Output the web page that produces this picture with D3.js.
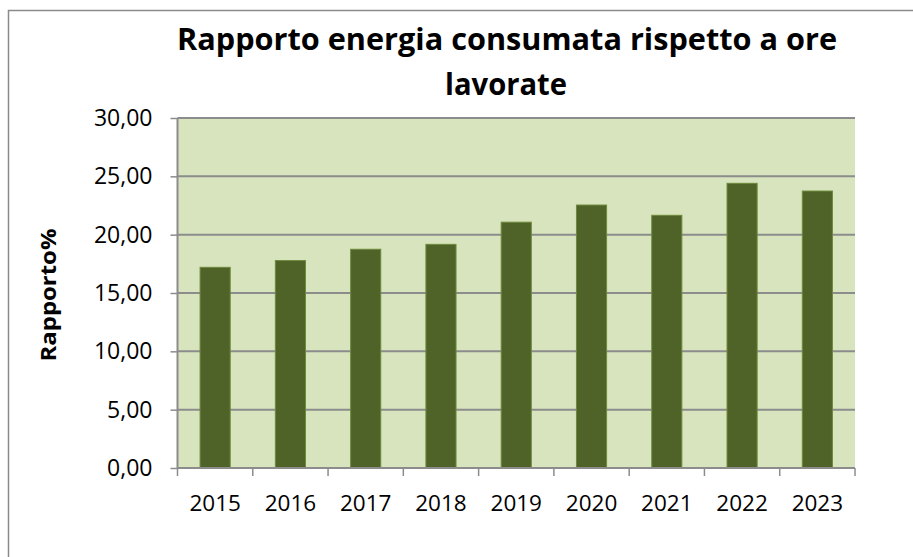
<!DOCTYPE html>
<html><head><meta charset="utf-8">
<script src="https://cdn.jsdelivr.net/npm/d3@7/dist/d3.min.js"></script>
<style>body{margin:0;background:#fff}svg{display:block}</style>
</head><body>
<svg id="c" width="913" height="557"></svg>
<script>
const years = ["2015","2016","2017","2018","2019","2020","2021","2022","2023"];
const values = [17.20, 17.78, 18.75, 19.17, 21.07, 22.54, 21.66, 24.40, 23.74];
const yTicks = [0, 5, 10, 15, 20, 25, 30];
const title = ["Rapporto energia consumata rispetto a ore", "lavorate"];
const yTitle = "Rapporto%";

const svg = d3.select("#c");
const L = 177.5, R = 855, T = 118, B = 468;
const font = "'Open Sans', 'Liberation Sans', sans-serif";

// outer frame
svg.append("path").attr("d", "M8.5,557 L8.5,10.5 L913,10.5")
  .attr("fill", "none").attr("stroke", "#8a8a8a").attr("stroke-width", 1.5);

const x = d3.scaleBand().domain(years).range([L, R]).paddingInner(0.6).paddingOuter(0.3);
const y = d3.scaleLinear().domain([0, 30]).range([B, T]);

svg.append("rect").attr("x", L).attr("y", T).attr("width", R - L).attr("height", B - T).attr("fill", "#d7e4bd");

// gridlines
svg.append("g").selectAll("line").data(yTicks.filter(d => d > 0)).join("line")
  .attr("x1", L).attr("x2", R).attr("y1", d => y(d)).attr("y2", d => y(d))
  .attr("stroke", "#8c8c8c").attr("stroke-width", 2);

// bars
svg.append("g").selectAll("rect").data(values).join("rect")
  .attr("x", (d, i) => x(years[i])).attr("width", x.bandwidth())
  .attr("y", d => y(d)).attr("height", d => B - y(d))
  .attr("fill", "#4f6228").attr("stroke", "#6e8a3c").attr("stroke-width", 1);

// y axis
const yAxis = d3.axisLeft(y).tickValues(yTicks).tickSize(7).tickPadding(18)
  .tickFormat(d => d3.format(".2f")(d).replace(".", ","));
const gy = svg.append("g").attr("transform", `translate(${L},0)`).call(yAxis);
gy.select(".domain").attr("stroke", "#8c8c8c").attr("stroke-width", 2).attr("d", `M0,${T}V${B}`);
gy.selectAll(".tick line").attr("stroke", "#8c8c8c").attr("stroke-width", 1.5);
gy.selectAll(".tick text").attr("font-family", font).attr("font-size", 23).attr("fill", "#000");

// x axis
const xAxis = d3.axisBottom(x).tickSize(0).tickPadding(43);
const gx = svg.append("g").attr("transform", `translate(0,${B})`).call(xAxis);
gx.select(".domain").attr("stroke", "#8c8c8c").attr("stroke-width", 2).attr("d", `M${L},0H${R}`);
gx.selectAll(".tick text").attr("font-family", font).attr("font-size", 22.5).attr("fill", "#000").attr("dy", "0");
// boundary ticks between categories
const bounds = d3.range(years.length + 1).map(i => L + i * x.step());
gx.append("g").selectAll("line").data(bounds).join("line")
  .attr("x1", d => d).attr("x2", d => d).attr("y1", 0).attr("y2", 8)
  .attr("stroke", "#8c8c8c").attr("stroke-width", 1.5);

// title
svg.append("text").attr("x", 507).attr("y", 49.5).attr("text-anchor", "middle")
  .attr("font-family", font).attr("font-weight", "bold").attr("font-size", 29.5)
  .attr("textLength", 660).attr("lengthAdjust", "spacingAndGlyphs").text(title[0]);
svg.append("text").attr("x", 506).attr("y", 95).attr("text-anchor", "middle")
  .attr("font-family", font).attr("font-weight", "bold").attr("font-size", 29.5)
  .attr("textLength", 122).attr("lengthAdjust", "spacingAndGlyphs").text(title[1]);

// y title
svg.append("text").attr("transform", "translate(56,295) rotate(-90)").attr("text-anchor", "middle")
  .attr("font-family", font).attr("font-weight", "bold").attr("font-size", 21)
  .attr("textLength", 133).attr("lengthAdjust", "spacingAndGlyphs").text(yTitle);
</script>
</body></html>
